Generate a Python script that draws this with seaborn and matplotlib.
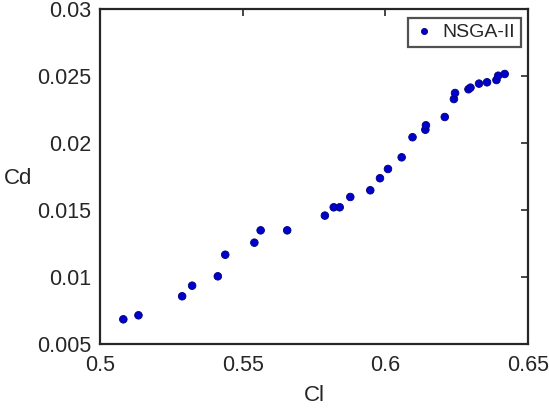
import matplotlib
matplotlib.use("Agg")
import matplotlib.pyplot as plt
import seaborn as sns
import pandas as pd

# NSGA-II Pareto front (lift vs drag coefficient)
cl = [0.5082, 0.5135, 0.5288, 0.5323, 0.5413, 0.5439, 0.5541, 0.5563, 0.5656,
      0.5788, 0.5819, 0.5840, 0.5877, 0.5947, 0.5981, 0.6009, 0.6057, 0.6095,
      0.6140, 0.6142, 0.6208, 0.6240, 0.6244, 0.6291, 0.6298, 0.6328, 0.6356,
      0.6389, 0.6395, 0.6418]
cd = [0.00684, 0.00714, 0.00856, 0.00935, 0.01005, 0.01166, 0.01256, 0.01348, 0.01348,
      0.01458, 0.01520, 0.01520, 0.01597, 0.01647, 0.01737, 0.01806, 0.01893, 0.02043,
      0.02099, 0.02132, 0.02194, 0.02328, 0.02373, 0.02401, 0.02413, 0.02443, 0.02453,
      0.02470, 0.02502, 0.02515]
xticks = [0.5, 0.55, 0.6, 0.65]
yticks = [0.005, 0.01, 0.015, 0.02, 0.025, 0.03]

df = pd.DataFrame({"Cl": cl, "Cd": cd, "method": "NSGA-II"})

sns.set_style("white")
plt.rcParams['font.family'] = ['Liberation Sans', 'DejaVu Sans']

fig = plt.figure(figsize=(5.49, 4.09), dpi=100)
ax = fig.add_axes([0.182, 0.159, 0.780, 0.819])

sns.scatterplot(data=df, x="Cl", y="Cd", hue="method", palette=["#0000cc"],
                s=30, edgecolor="#00007a", linewidth=0.6, ax=ax)

ax.set_xlim(0.5, 0.65)
ax.set_ylim(0.005, 0.03)
ax.set_xticks(xticks)
ax.set_xticklabels(["0.5", "0.55", "0.6", "0.65"])
ax.set_yticks(yticks)
ax.set_yticklabels(["0.005", "0.01", "0.015", "0.02", "0.025", "0.03"])
ax.tick_params(direction="in", length=5, width=1.2, colors="#262626",
               labelsize=15.5, top=True, right=True)
ax.tick_params(axis="x", labeltop=False, pad=8)
ax.tick_params(axis="y", labelright=False, pad=6)
for sp in ax.spines.values():
    sp.set_linewidth(1.6)
    sp.set_color("#262626")

ax.set_xlabel("Cl", fontsize=16, color="#262626", va="center")
ax.xaxis.set_label_coords(0.5, -0.155)
ax.set_ylabel("Cd", fontsize=16, color="#262626", rotation=0,
              va="center", ha="center")
ax.yaxis.set_label_coords(-0.19, 0.495)

leg = ax.legend(loc="upper right", fontsize=14, frameon=True, fancybox=False,
                handletextpad=0.45, borderpad=0.3, handlelength=1.0,
                bbox_to_anchor=(0.983, 0.973), markerscale=0.8,
                borderaxespad=0)
leg.get_frame().set_edgecolor("#262626")
leg.get_frame().set_linewidth(1.6)
for t in leg.get_texts():
    t.set_color("#262626")

fig.savefig("out.png", dpi=100)
